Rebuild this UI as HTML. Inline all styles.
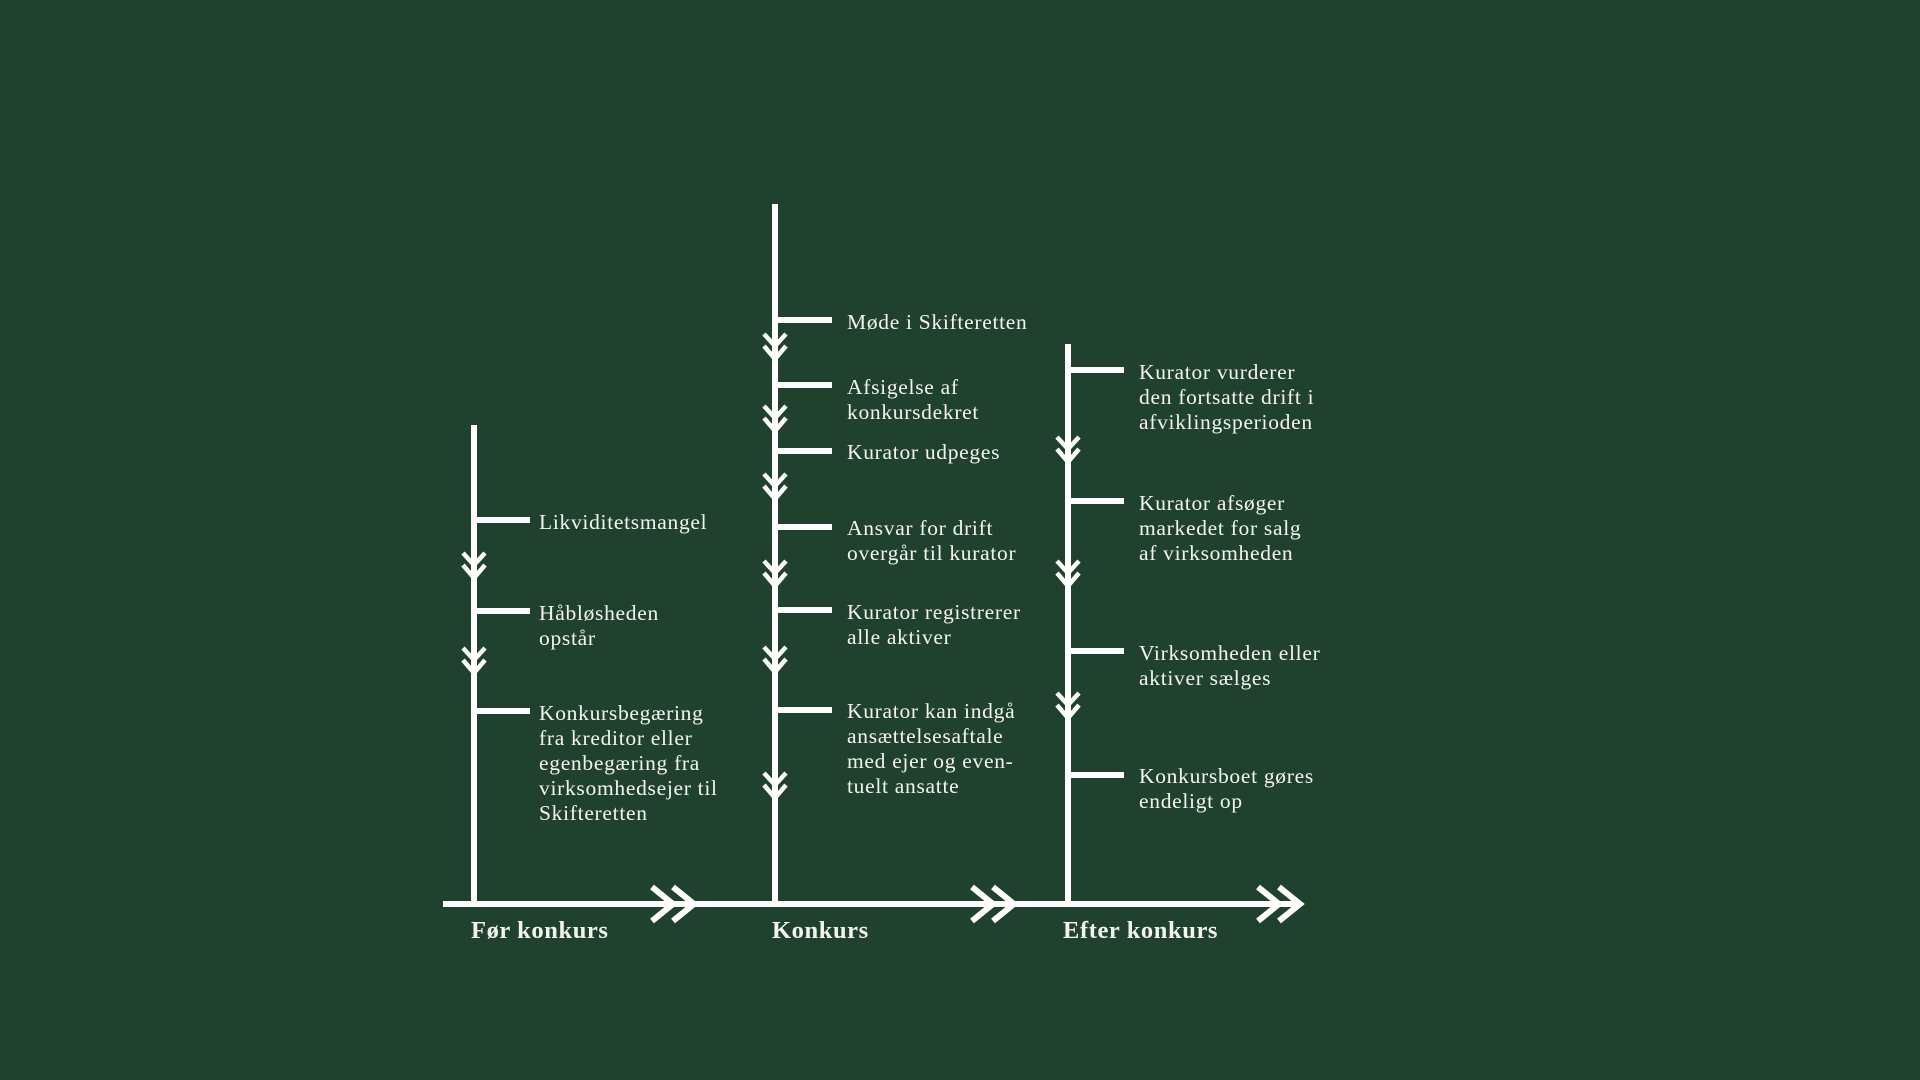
<!DOCTYPE html>
<html><head><meta charset="utf-8"><style>
html,body{margin:0;padding:0;background:#21412f;}
svg{display:block}
text{font-family:"Liberation Serif",serif;fill:#f4f4ee;font-size:21.5px;letter-spacing:0.7px;}
.h{font-size:24.5px;font-weight:bold;letter-spacing:0.6px;}
</style></head><body>
<svg width="1920" height="1080" viewBox="0 0 1920 1080">
<defs>
<g id="dc" fill="none" stroke="#fff" stroke-width="4.5" stroke-linecap="butt">
<polyline points="-11,-12 0,0 11,-12"/>
<polyline points="-11,0 0,13 11,0"/>
</g>
<g id="hc" fill="none" stroke="#fff" stroke-width="6">
<polyline points="-42,-17 -21,0 -42,17"/>
<polyline points="-21,-17 0,0 -21,17"/>
</g>
</defs>
<g stroke="#fff" stroke-width="6" fill="none">
<line x1="443" y1="904" x2="1298" y2="904"/>
<line x1="474" y1="425" x2="474" y2="904"/>
<line x1="775" y1="204" x2="775" y2="904"/>
<line x1="1068" y1="344" x2="1068" y2="904"/>
<line x1="474" y1="520" x2="530" y2="520"/>
<line x1="474" y1="611" x2="530" y2="611"/>
<line x1="474" y1="711" x2="530" y2="711"/>
<line x1="775" y1="320" x2="832" y2="320"/>
<line x1="775" y1="385" x2="832" y2="385"/>
<line x1="775" y1="451" x2="832" y2="451"/>
<line x1="775" y1="527" x2="832" y2="527"/>
<line x1="775" y1="610" x2="832" y2="610"/>
<line x1="775" y1="710" x2="832" y2="710"/>
<line x1="1068" y1="370" x2="1124" y2="370"/>
<line x1="1068" y1="501" x2="1124" y2="501"/>
<line x1="1068" y1="651" x2="1124" y2="651"/>
<line x1="1068" y1="775" x2="1124" y2="775"/>
</g>
<use href="#hc" x="694" y="904"/>
<use href="#hc" x="1014" y="904"/>
<use href="#hc" x="1300" y="904"/>
<use href="#dc" x="474" y="565"/>
<use href="#dc" x="474" y="660"/>
<use href="#dc" x="775" y="346"/>
<use href="#dc" x="775" y="418"/>
<use href="#dc" x="775" y="486"/>
<use href="#dc" x="775" y="573"/>
<use href="#dc" x="775" y="659"/>
<use href="#dc" x="775" y="785"/>
<use href="#dc" x="1068" y="449"/>
<use href="#dc" x="1068" y="573"/>
<use href="#dc" x="1068" y="705"/>

<text x="539" y="529">Likviditetsmangel</text>
<text x="539" y="620">Håbløsheden<tspan x="539" dy="25">opstår</tspan></text>
<text x="539" y="720">Konkursbegæring<tspan x="539" dy="25">fra kreditor eller</tspan><tspan x="539" dy="25">egenbegæring fra</tspan><tspan x="539" dy="25">virksomhedsejer til</tspan><tspan x="539" dy="25">Skifteretten</tspan></text>

<text x="847" y="329">Møde i Skifteretten</text>
<text x="847" y="394">Afsigelse af<tspan x="847" dy="25">konkursdekret</tspan></text>
<text x="847" y="459">Kurator udpeges</text>
<text x="847" y="535">Ansvar for drift<tspan x="847" dy="25">overgår til kurator</tspan></text>
<text x="847" y="619">Kurator registrerer<tspan x="847" dy="25">alle aktiver</tspan></text>
<text x="847" y="718">Kurator kan indgå<tspan x="847" dy="25">ansættelsesaftale</tspan><tspan x="847" dy="25">med ejer og even-</tspan><tspan x="847" dy="25">tuelt ansatte</tspan></text>

<text x="1139" y="379">Kurator vurderer<tspan x="1139" dy="25">den fortsatte drift i</tspan><tspan x="1139" dy="25">afviklingsperioden</tspan></text>
<text x="1139" y="510">Kurator afsøger<tspan x="1139" dy="25">markedet for salg</tspan><tspan x="1139" dy="25">af virksomheden</tspan></text>
<text x="1139" y="660">Virksomheden eller<tspan x="1139" dy="25">aktiver sælges</tspan></text>
<text x="1139" y="783">Konkursboet gøres<tspan x="1139" dy="25">endeligt op</tspan></text>

<text class="h" x="471" y="938">Før konkurs</text>
<text class="h" x="772" y="938">Konkurs</text>
<text class="h" x="1063" y="938">Efter konkurs</text>
</svg>
</body></html>
